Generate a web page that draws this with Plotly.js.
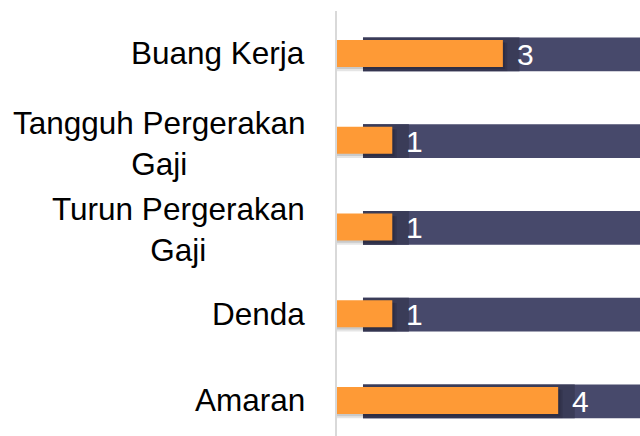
<!DOCTYPE html>
<html>
<head>
<meta charset="utf-8">
<script src="https://cdn.plot.ly/plotly-3.0.1.min.js"></script>
<style>
  html, body { margin: 0; padding: 0; background: #ffffff; }
  #chart { width: 640px; height: 436px; }
</style>
</head>
<body>
<div id="chart"></div>
<script>
// ---- data ----
const categories = ['Buang Kerja', 'Tangguh Pergerakan<br>Gaji', 'Turun Pergerakan<br>Gaji', 'Denda', 'Amaran'];
const values = [3, 1, 1, 1, 4];

// ---- styling constants ----
const ORANGE = '#FE9A36';
const NAVY = '#47496B';
const NAVY_DARK = '#3A3C58';
const FONT = 'Liberation Sans, Arial, Helvetica, sans-serif';
const TRACK_START = 0.47;
const TRACK_LEN = 10;

const ids = categories.map((c, i) => 'c' + i);

const track = {
  type: 'bar', orientation: 'h', y: ids,
  x: ids.map(() => TRACK_LEN), base: ids.map(() => TRACK_START),
  width: 0.39, marker: { color: NAVY }, hoverinfo: 'skip', showlegend: false
};
const trackShade = {
  type: 'bar', orientation: 'h', y: ids,
  x: values.map(v => v + 0.3 - TRACK_START), base: ids.map(() => TRACK_START),
  width: 0.39, marker: { color: NAVY_DARK }, hoverinfo: 'skip', showlegend: false
};
const shadow1 = {
  type: 'bar', orientation: 'h', y: ids,
  x: values.map(v => v + 0.08), base: ids.map(() => 0),
  width: 0.33, offset: -0.135, marker: { color: 'rgba(0,0,0,0.10)' }, hoverinfo: 'skip', showlegend: false
};
const shadow2 = {
  type: 'bar', orientation: 'h', y: ids,
  x: values.map(v => v + 0.04), base: ids.map(() => 0),
  width: 0.31, offset: -0.14, marker: { color: 'rgba(0,0,0,0.12)' }, hoverinfo: 'skip', showlegend: false
};
const main = {
  type: 'bar', orientation: 'h', y: ids, x: values, base: ids.map(() => 0),
  width: 0.31, offset: -0.165, marker: { color: ORANGE }, hoverinfo: 'skip', showlegend: false
};

const annotations = [];
categories.forEach((c, i) => {
  const multi = c.indexOf('<br>') >= 0;
  annotations.push({
    xref: 'paper', yref: 'y', x: 0, y: ids[i], xanchor: 'right', yanchor: 'middle',
    xshift: -30, yshift: multi ? -2 : 1, text: c, showarrow: false, align: 'center',
    font: { family: FONT, size: 31.5, color: '#000000' }
  });
  annotations.push({
    xref: 'x', yref: 'y', x: values[i], y: ids[i], xanchor: 'left', yanchor: 'middle',
    xshift: 12, yshift: 0, text: String(values[i]), showarrow: false,
    font: { family: FONT, size: 30, color: '#ffffff' }
  });
});

const layout = {
  width: 640, height: 436,
  margin: { l: 337, r: 0, t: 11, b: 0, pad: 0 },
  paper_bgcolor: '#ffffff', plot_bgcolor: '#ffffff',
  barmode: 'overlay', showlegend: false,
  xaxis: { range: [0, 5.48], visible: false, fixedrange: true },
  yaxis: {
    type: 'category', categoryarray: ids, range: [4.399, -0.5],
    showticklabels: false, ticks: '', showgrid: false, zeroline: false,
    showline: true, linecolor: '#D9D9D9', linewidth: 2, fixedrange: true
  },
  annotations: annotations
};

Plotly.newPlot('chart', [track, trackShade, shadow1, shadow2, main], layout, { displayModeBar: false, staticPlot: true });
</script>
</body>
</html>
